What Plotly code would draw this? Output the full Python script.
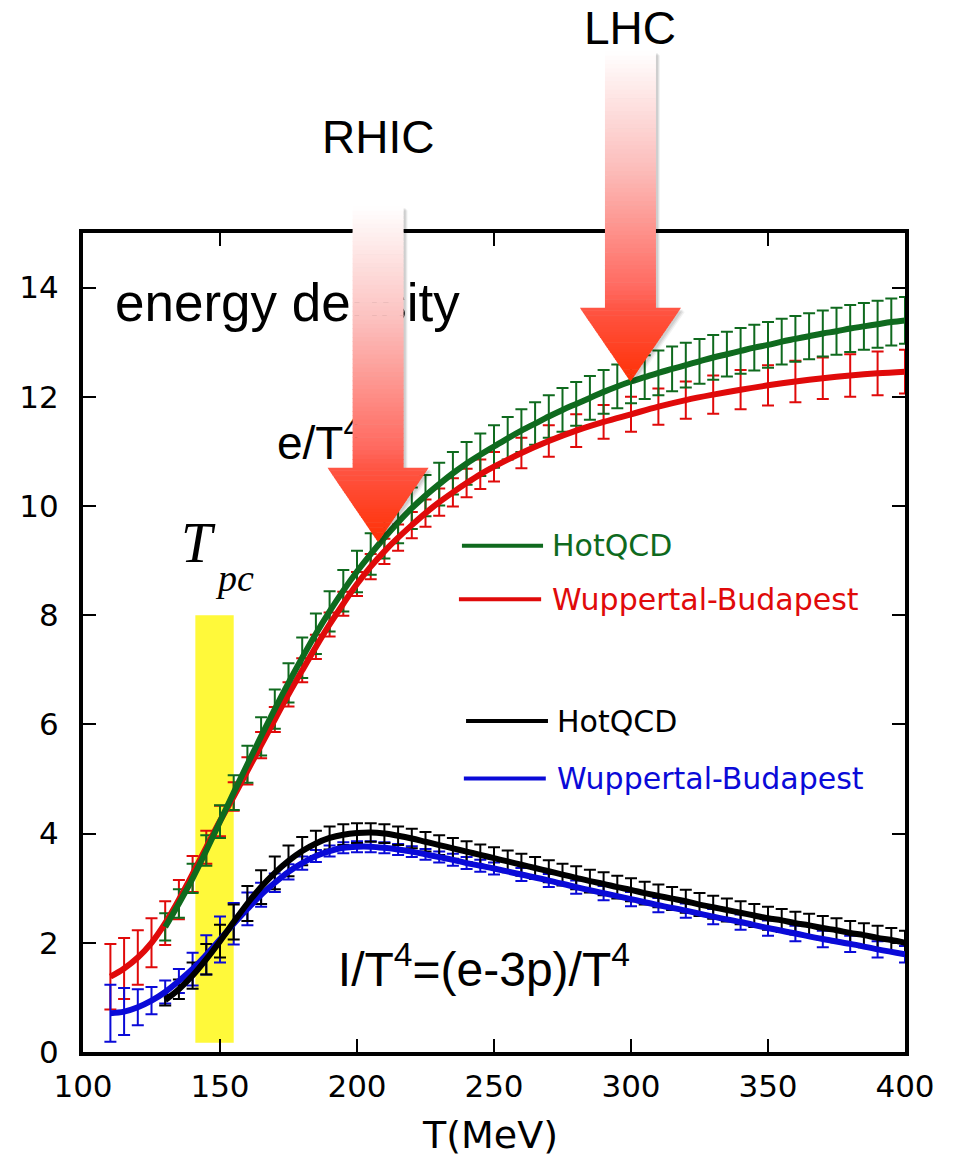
import plotly.graph_objects as go

# ---------------- data ----------------
X_RANGE = [100, 400]
Y_RANGE = [0, 15]

# HotQCD temperature grid (MeV)
T_HOT = list(range(130, 401, 5))
# Wuppertal-Budapest temperature grid (MeV)
T_WB = list(range(110, 251, 5)) + list(range(260, 401, 10))

# energy density e/T^4
E_HOT = [2.29, 2.72, 3.18, 3.69, 4.22, 4.75, 5.27, 5.78, 6.28, 6.76,
         7.22, 7.66, 8.07, 8.45, 8.80, 9.12, 9.42, 9.70, 9.96, 10.19,
         10.40, 10.60, 10.78, 10.94, 11.09, 11.24, 11.38, 11.51, 11.64, 11.76,
         11.87, 11.98, 12.09, 12.19, 12.28, 12.36, 12.44, 12.51, 12.58, 12.65,
         12.72, 12.78, 12.84, 12.90, 12.95, 13.01, 13.06, 13.11, 13.16, 13.20,
         13.25, 13.29, 13.33, 13.37, 13.40]
E_HOT_ERR = [0.25, 0.26, 0.27, 0.28, 0.30, 0.32, 0.34, 0.35, 0.36, 0.36,
             0.37, 0.37, 0.37, 0.38, 0.38, 0.38, 0.38, 0.38, 0.38, 0.38,
             0.39, 0.39, 0.39, 0.39, 0.39, 0.39, 0.39, 0.39, 0.39, 0.40,
             0.40, 0.40, 0.40, 0.40, 0.40, 0.40, 0.41, 0.41, 0.41, 0.41,
             0.41, 0.41, 0.42, 0.42, 0.42, 0.42, 0.42, 0.42, 0.42, 0.43,
             0.43, 0.43, 0.43, 0.43, 0.43]
E_WB = [1.38, 1.53, 1.73, 2.00, 2.36, 2.79, 3.26, 3.75, 4.23, 4.68,
        5.15, 5.62, 6.09, 6.55, 6.99, 7.42, 7.83, 8.21, 8.57, 8.89,
        9.17, 9.42, 9.65, 9.87, 10.07, 10.25, 10.42, 10.58, 10.72,
        10.97, 11.19, 11.38, 11.54, 11.68, 11.82, 11.94, 12.04, 12.13, 12.21,
        12.28, 12.34, 12.39, 12.43, 12.46]
E_WB_ERR = [0.60, 0.56, 0.50, 0.45, 0.40, 0.36, 0.33, 0.30, 0.28, 0.26,
            0.25, 0.24, 0.23, 0.22, 0.22, 0.22, 0.22, 0.22, 0.22, 0.23,
            0.23, 0.24, 0.24, 0.25, 0.25, 0.26, 0.26, 0.27, 0.27,
            0.28, 0.29, 0.30, 0.31, 0.32, 0.33, 0.34, 0.35, 0.36, 0.37,
            0.38, 0.38, 0.39, 0.40, 0.40]

# trace anomaly I/T^4 = (e-3p)/T^4
I_HOT = [0.95, 1.15, 1.40, 1.70, 2.03, 2.38, 2.72, 3.02, 3.28, 3.50,
         3.68, 3.82, 3.92, 3.98, 4.01, 4.02, 4.00, 3.96, 3.91, 3.85,
         3.79, 3.73, 3.67, 3.61, 3.55, 3.49, 3.43, 3.37, 3.31, 3.25,
         3.19, 3.13, 3.08, 3.02, 2.97, 2.91, 2.86, 2.81, 2.76, 2.70,
         2.65, 2.60, 2.55, 2.50, 2.45, 2.41, 2.36, 2.32, 2.27, 2.23,
         2.18, 2.14, 2.09, 2.05, 2.00]
I_HOT_ERR = [0.10, 0.18, 0.24, 0.28, 0.30, 0.32, 0.32, 0.31, 0.30, 0.28,
             0.26, 0.23, 0.21, 0.19, 0.18, 0.17, 0.17, 0.17, 0.18, 0.18,
             0.18, 0.19, 0.19, 0.19, 0.20, 0.20, 0.20, 0.20, 0.20, 0.20,
             0.21, 0.21, 0.21, 0.21, 0.21, 0.21, 0.21, 0.21, 0.21, 0.21,
             0.21, 0.21, 0.21, 0.21, 0.21, 0.21, 0.21, 0.21, 0.22, 0.22,
             0.22, 0.22, 0.22, 0.22, 0.22]
I_WB = [0.71, 0.74, 0.82, 0.94, 1.10, 1.30, 1.52, 1.78, 2.06, 2.35,
        2.62, 2.88, 3.10, 3.30, 3.46, 3.59, 3.68, 3.74, 3.76, 3.76,
        3.74, 3.71, 3.67, 3.62, 3.57, 3.52, 3.46, 3.41, 3.36,
        3.25, 3.14, 3.02, 2.91, 2.80, 2.69, 2.59, 2.48, 2.38, 2.27,
        2.17, 2.07, 1.98, 1.88, 1.79]
I_WB_ERR = [0.52, 0.43, 0.33, 0.25, 0.21, 0.22, 0.30, 0.36, 0.42, 0.38,
            0.30, 0.22, 0.17, 0.14, 0.12, 0.11, 0.10, 0.10, 0.10, 0.10,
            0.10, 0.10, 0.10, 0.10, 0.10, 0.11, 0.11, 0.11, 0.11,
            0.12, 0.12, 0.12, 0.13, 0.13, 0.13, 0.13, 0.14, 0.14, 0.14,
            0.14, 0.15, 0.15, 0.15, 0.15]

X_TICKS = [100, 150, 200, 250, 300, 350, 400]
Y_TICKS = [0, 2, 4, 6, 8, 10, 12, 14]

# pseudo-critical temperature band (MeV) and its height
TPC_BAND = (141, 155)
TPC_BAND_Y = (0.17, 8.0)

# collider arrows: label, tip temperature, tip value, shaft top value, head top value,
# label height (paper units)
ARROWS = [
    ("RHIC", 207.7, 9.34, 15.49, 10.70, 1.117),
    ("LHC", 299.8, 12.28, 18.33, 13.63, 1.250),
]

GREEN = "#0F6A1E"
RED = "#E00A0A"
BLACK = "#000000"
BLUE = "#0A0AD8"

TEXT_FONT = "Liberation Sans, Arial, sans-serif"
TICK_FONT = "DejaVu Sans, sans-serif"

# ---------------- figure ----------------
W, H = 955, 1161
ML, MR, MT, MB = 83, 50, 233, 109
PW, PH = W - ML - MR, H - MT - MB

fig = go.Figure()


def err_trace(t, v, e, color):
    return go.Scatter(
        x=t, y=v, mode="markers",
        marker=dict(size=1, color=color, opacity=0),
        error_y=dict(type="data", array=e, visible=True, color=color,
                     thickness=2, width=6),
        hoverinfo="skip", showlegend=False)


def line_trace(t, v, color):
    return go.Scatter(
        x=t, y=v, mode="lines",
        line=dict(color=color, width=6, shape="spline", smoothing=1.0),
        hoverinfo="skip", showlegend=False)


# error bars first, curves on top
fig.add_trace(err_trace(T_WB, E_WB, E_WB_ERR, RED))
fig.add_trace(err_trace(T_HOT, E_HOT, E_HOT_ERR, GREEN))
fig.add_trace(err_trace(T_WB, I_WB, I_WB_ERR, BLUE))
fig.add_trace(err_trace(T_HOT, I_HOT, I_HOT_ERR, BLACK))
fig.add_trace(line_trace(T_WB, E_WB, RED))
fig.add_trace(line_trace(T_HOT, E_HOT, GREEN))
fig.add_trace(line_trace(T_WB, I_WB, BLUE))
fig.add_trace(line_trace(T_HOT, I_HOT, BLACK))

# in-plot labels drawn as text traces so the arrows can pass over them
fig.add_trace(go.Scatter(
    x=[111.7], y=[13.63], mode="text", text=["energy density"],
    textposition="middle right",
    textfont=dict(family=TEXT_FONT, size=53, color="black"),
    hoverinfo="skip", showlegend=False))
fig.add_trace(go.Scatter(
    x=[170.8], y=[11.08], mode="text", text=["e/T<sup>4</sup>"],
    textposition="middle right",
    textfont=dict(family=TEXT_FONT, size=46, color="black"),
    hoverinfo="skip", showlegend=False))
fig.add_trace(go.Scatter(
    x=[193], y=[1.43], mode="text", text=["I/T<sup>4</sup>=(e-3p)/T<sup>4</sup>"],
    textposition="middle right",
    textfont=dict(family=TEXT_FONT, size=48, color="black"),
    hoverinfo="skip", showlegend=False))

shapes = []

# T_pc band
shapes.append(dict(type="rect", xref="x", yref="y", layer="below",
                   x0=TPC_BAND[0], x1=TPC_BAND[1],
                   y0=TPC_BAND_Y[0], y1=TPC_BAND_Y[1],
                   fillcolor="#FFF93A", line=dict(width=0)))


def px_x(t):
    return (t - X_RANGE[0]) / (X_RANGE[1] - X_RANGE[0])


def px_y(v):
    return (v - Y_RANGE[0]) / (Y_RANGE[1] - Y_RANGE[0])


GRAD = [(0.0, (255, 255, 255)), (0.35, (252, 190, 188)),
        (0.72, (255, 105, 95)), (0.78, (255, 85, 68)), (1.0, (255, 48, 5))]


def grad_color(f):
    for (a, ca), (b, cb) in zip(GRAD[:-1], GRAD[1:]):
        if f <= b:
            u = (f - a) / (b - a) if b > a else 0
            c = [round(ca[i] + (cb[i] - ca[i]) * u) for i in range(3)]
            return "rgb(%d,%d,%d)" % tuple(c)
    return "rgb(%d,%d,%d)" % GRAD[-1][1]


SHAFT_HALF = 25.5 / PW   # paper units
HEAD_HALF = 50.5 / PW


def arrow_shapes(t_tip, v_tip, v_top, v_head):
    cx = px_x(t_tip)
    y_tip, y_top, y_head = px_y(v_tip), px_y(v_top), px_y(v_head)
    out = []
    # soft shadow
    for dx, dy, a in [(4, 4, 0.05), (3, 3, 0.07), (2, 2, 0.08)]:
        ox, oy = dx / PW, -dy / PH
        p = ("M{a},{b} L{c},{b} L{c},{d} L{e},{d} L{f},{g} L{h},{d} L{i},{d} L{i},{b} Z"
             .format(a=cx - SHAFT_HALF + ox, b=y_top + oy, c=cx + SHAFT_HALF + ox,
                     d=y_head + oy, e=cx + HEAD_HALF + ox, f=cx + ox, g=y_tip + oy,
                     h=cx - HEAD_HALF + ox, i=cx - SHAFT_HALF + ox))
        out.append(dict(type="path", xref="paper", yref="paper", layer="above",
                        path=p, fillcolor="rgba(0,0,0,%.2f)" % a, line=dict(width=0)))
    total = y_top - y_tip
    n_shaft, n_head = 60, 30
    eps = 0.6 / PH
    for k in range(n_shaft):
        ya = y_top - (y_top - y_head) * k / n_shaft
        yb = y_top - (y_top - y_head) * (k + 1) / n_shaft
        f = (y_top - (ya + yb) / 2) / total
        out.append(dict(type="path", xref="paper", yref="paper", layer="above",
                        path="M{0},{1} L{2},{1} L{2},{3} L{0},{3} Z".format(
                            cx - SHAFT_HALF, ya, cx + SHAFT_HALF, yb - eps),
                        fillcolor=grad_color(f), line=dict(width=0)))
    for k in range(n_head):
        ya = y_head - (y_head - y_tip) * k / n_head
        yb = y_head - (y_head - y_tip) * (k + 1) / n_head
        wa = HEAD_HALF * (1 - k / n_head)
        yb2 = yb - eps if k < n_head - 1 else yb
        wb2 = HEAD_HALF * (1 - (k + 1.1) / n_head) if k < n_head - 1 else 0
        f = (y_top - (ya + yb) / 2) / total
        out.append(dict(type="path", xref="paper", yref="paper", layer="above",
                        path="M{0},{1} L{2},{1} L{3},{4} L{5},{4} Z".format(
                            cx - wa, ya, cx + wa, cx + max(wb2, 0), yb2, cx - max(wb2, 0)),
                        fillcolor=grad_color(f), line=dict(width=0)))
    return out


annotations = []
for label, t_tip, v_tip, v_top, v_head, y_label in ARROWS:
    shapes.extend(arrow_shapes(t_tip, v_tip, v_top, v_head))
    annotations.append(dict(x=px_x(t_tip), y=y_label, xref="paper", yref="paper",
                            text=label, showarrow=False,
                            xanchor="center", yanchor="middle",
                            font=dict(family=TEXT_FONT, size=46, color="black")))

# T_pc label
annotations.append(dict(x=142.3, y=9.32, xref="x", yref="y", text="<i>T</i>",
                        showarrow=False, xanchor="center", yanchor="middle",
                        font=dict(family="Liberation Serif, Times New Roman, serif",
                                  size=56, color="black")))
annotations.append(dict(x=155.3, y=8.68, xref="x", yref="y", text="<i>pc</i>",
                        showarrow=False, xanchor="center", yanchor="middle",
                        font=dict(family="Liberation Serif, Times New Roman, serif",
                                  size=38, color="black")))

# legend entries
LEGEND = [
    ("HotQCD", GREEN, 238.3, 267.9, 9.27, 270.4),
    ("Wuppertal-Budapest", RED, 237.2, 267.2, 8.29, 270.4),
    ("HotQCD", BLACK, 239.8, 269.7, 6.06, 272.3),
    ("Wuppertal-Budapest", BLUE, 239.0, 268.9, 5.01, 272.3),
]
for text, color, xa, xb, yv, xt in LEGEND:
    shapes.append(dict(type="line", xref="x", yref="y", x0=xa, x1=xb, y0=yv, y1=yv,
                       line=dict(color=color, width=4), layer="above"))
    annotations.append(dict(x=xt, y=yv, xref="x", yref="y", text=text,
                            showarrow=False, xanchor="left", yanchor="middle",
                            font=dict(family=TICK_FONT, size=30, color=color)))

# axis title
annotations.append(dict(x=0.495, y=-0.101, xref="paper", yref="paper", text="T(MeV)",
                        showarrow=False, xanchor="center", yanchor="middle",
                        font=dict(family=TICK_FONT, size=38, color="black")))

axis_common = dict(
    showline=True, linewidth=4, linecolor="black", mirror="allticks",
    ticks="inside", ticklen=13, tickwidth=2, tickcolor="black",
    showgrid=False, zeroline=False,
    tickfont=dict(family=TICK_FONT, size=31, color="black"),
)

fig.update_layout(
    width=W, height=H,
    margin=dict(l=ML, r=MR, t=MT, b=MB, pad=0),
    paper_bgcolor="white", plot_bgcolor="white",
    showlegend=False,
    xaxis=dict(range=X_RANGE, tickvals=X_TICKS, ticklabelstandoff=4, **axis_common),
    yaxis=dict(range=Y_RANGE, tickvals=Y_TICKS, ticklabelstandoff=14, **axis_common),
    shapes=shapes,
    annotations=annotations,
)

fig.write_html("out.html")
